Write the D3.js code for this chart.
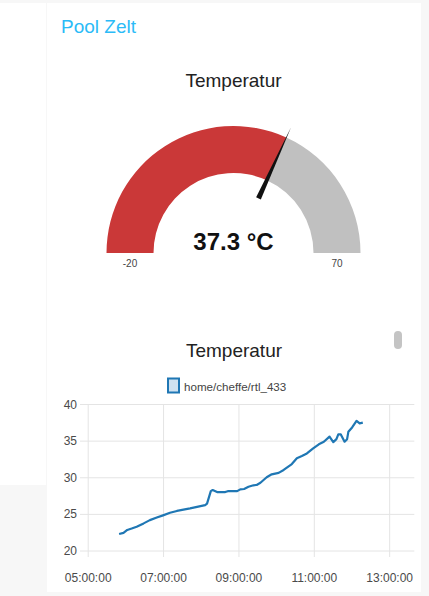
<!DOCTYPE html>
<html><head><meta charset="utf-8">
<script src="https://cdn.jsdelivr.net/npm/d3@7"></script>
<style>
html,body{margin:0;padding:0;background:#f7f7f7;}
svg{display:block;font-family:"Liberation Sans",Arial,Helvetica,sans-serif;}
</style></head><body>
<svg id="c" width="429" height="596"></svg>
<script>
// ---- data ----
const groupTitle = "Pool Zelt";
const gaugeTitle = "Temperatur";
const gaugeValue = 37.3;
const gaugeUnit = "°C";
const gaugeMin = -20;
const gaugeMax = 70;

const chartTitle = "Temperatur";
const seriesName = "home/cheffe/rtl_433";
const times = ["05:50","05:57","06:03","06:10","06:18","06:29","06:39","06:50","07:00","07:11","07:22","07:43","08:07","08:10","08:16","08:19","08:26","08:39","08:43","08:58","09:03","09:09","09:16","09:24","09:29","09:35","09:45","09:53","10:04","10:12","10:25","10:33","10:41","10:49","10:59","11:08","11:16","11:25","11:31","11:36","11:39","11:43","11:49","11:53","11:55","12:01","12:08","12:13","12:18"];
const temps = [22.25,22.4,22.8,23.0,23.25,23.7,24.15,24.5,24.8,25.15,25.4,25.75,26.2,26.4,28.1,28.25,27.98,27.98,28.1,28.1,28.35,28.4,28.7,28.9,28.95,29.25,30.0,30.4,30.6,31.0,31.8,32.6,32.9,33.25,33.95,34.5,34.85,35.55,34.8,35.2,35.85,35.85,34.85,35.2,36.2,36.8,37.7,37.35,37.45];
const yTicks = [20,25,30,35,40];
const xTicks = ["05:00:00","07:00:00","09:00:00","11:00:00","13:00:00"];
const xDomain = ["05:00:00","13:40:00"];
const yDomain = [20,40];

// ---- drawing ----
const svg = d3.select("#c");
const parse = d3.timeParse("%H:%M:%S");
const parseHM = d3.timeParse("%H:%M");

svg.append("rect").attr("x",0).attr("y",3).attr("width",46).attr("height",482).attr("fill","#ffffff");
svg.append("rect").attr("x",47).attr("y",3).attr("width",374).attr("height",589).attr("fill","#ffffff");

svg.append("text").attr("x",61).attr("y",33).attr("font-size",19).attr("fill","#2bbbf7").text(groupTitle);

// gauge
const cx = 233.5, cy = 253, rOut = 127, rIn = 80;
const ang = d3.scaleLinear().domain([gaugeMin,gaugeMax]).range([-Math.PI/2, Math.PI/2]);
const g = svg.append("g").attr("transform",`translate(${cx},${cy})`);
svg.append("text").attr("x",cx).attr("y",87).attr("text-anchor","middle").attr("font-size",19).attr("fill","#222").text(gaugeTitle);
const arc = d3.arc().innerRadius(rIn).outerRadius(rOut);
g.append("path").attr("d",arc({startAngle:ang(gaugeMin),endAngle:ang(gaugeValue)})).attr("fill","#ca3838");
g.append("path").attr("d",arc({startAngle:ang(gaugeValue),endAngle:ang(gaugeMax)})).attr("fill","#c0c0c0");
const a = ang(gaugeValue);
const ux = Math.sin(a), uy = -Math.cos(a), px = Math.cos(a), py = Math.sin(a);
const r0 = 60, r1 = 138, hw = 2.6;
g.append("path").attr("d",`M${ux*r0+px*hw},${uy*r0+py*hw}L${ux*r1},${uy*r1}L${ux*r0-px*hw},${uy*r0-py*hw}Z`).attr("fill","#111");
g.append("text").attr("x",0).attr("y",-3).attr("text-anchor","middle").attr("font-size",24).attr("font-weight","bold").attr("fill","#111").text(d3.format(".1f")(gaugeValue)+" "+gaugeUnit);
g.append("text").attr("x",-(rIn+rOut)/2).attr("y",14).attr("text-anchor","middle").attr("font-size",10).attr("fill","#444").text(gaugeMin);
g.append("text").attr("x",(rIn+rOut)/2).attr("y",14).attr("text-anchor","middle").attr("font-size",10).attr("fill","#444").text(gaugeMax);

svg.append("rect").attr("x",394).attr("y",331).attr("width",8).attr("height",18).attr("rx",4).attr("fill","#c4c4c4");

// chart
svg.append("text").attr("x",234).attr("y",357).attr("text-anchor","middle").attr("font-size",19).attr("fill","#222").text(chartTitle);
svg.append("rect").attr("x",168).attr("y",378.5).attr("width",11).attr("height",14).attr("fill","#cfe2f1").attr("stroke","#1f77b4").attr("stroke-width",2);
svg.append("text").attr("x",184).attr("y",391).attr("font-size",11.6).attr("fill","#444").text(seriesName);

const x = d3.scaleTime().domain(xDomain.map(parse)).range([87.7,414.3]);
const y = d3.scaleLinear().domain(yDomain).range([550.5,404]);

const gx = svg.append("g").attr("transform","translate(0,557)");
gx.call(d3.axisBottom(x).tickValues(xTicks.map(parse)).tickFormat(d3.timeFormat("%H:%M:%S")).tickSize(153).tickSizeOuter(0));
gx.select(".domain").remove();
gx.selectAll(".tick line").attr("y1",-153).attr("y2",0).attr("stroke","#e4e4e4");
gx.selectAll(".tick text").attr("y",16).attr("font-size",12).attr("fill","#4a4a4a").attr("font-family","Liberation Sans,Arial,sans-serif");

const gy = svg.append("g").attr("transform","translate(80,0)");
gy.call(d3.axisLeft(y).tickValues(yTicks).tickSize(0));
gy.select(".domain").remove();
gy.selectAll(".tick line").attr("x1",0).attr("x2",334.3).attr("stroke","#e4e4e4");
gy.selectAll(".tick text").attr("x",-3).attr("dy","0.34em").attr("font-size",12).attr("fill","#4a4a4a").attr("font-family","Liberation Sans,Arial,sans-serif");

const pts = times.map((t,i)=>({t:parseHM(t),v:temps[i]}));
svg.append("path").datum(pts).attr("fill","none").attr("stroke","#1f77b4").attr("stroke-width",2.2).attr("stroke-linejoin","round")
  .attr("d",d3.line().x(d=>x(d.t)).y(d=>y(d.v)));
</script>
</body></html>
